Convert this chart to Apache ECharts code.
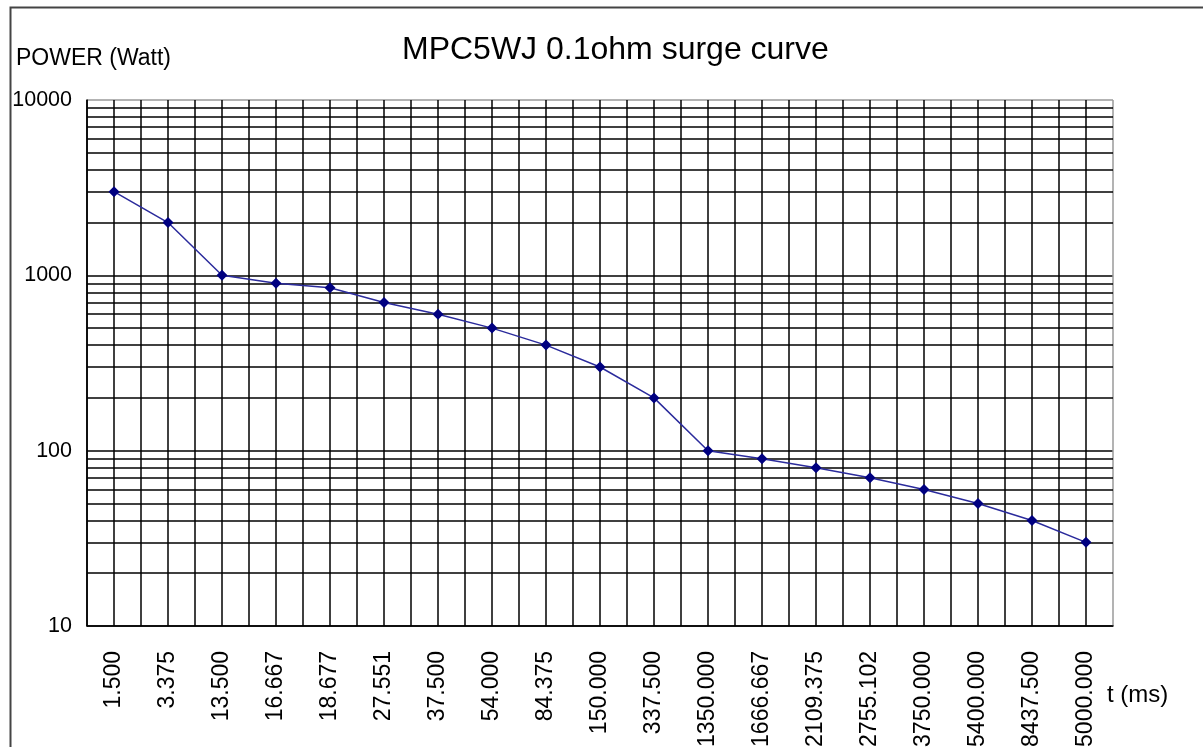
<!DOCTYPE html>
<html>
<head>
<meta charset="utf-8">
<script src="https://cdn.jsdelivr.net/npm/echarts@6/dist/echarts.min.js"></script>
<style>
html,body{margin:0;padding:0;background:#fff;overflow:hidden;}
#chart{width:1203px;height:747px;}
</style>
</head>
<body>
<div id="chart"></div>
<script>
const categories = ['1.500','3.375','13.500','16.667','18.677','27.551','37.500','54.000','84.375','150.000','337.500','1350.000','1666.667','2109.375','2755.102','3750.000','5400.000','8437.500','15000.000'];
const powerValues = [3000,2000,1000,900,850,700,600,500,400,300,200,100,90,80,70,60,50,40,30];
const minorGridValues = [20,30,40,50,60,70,80,90,200,300,400,500,600,700,800,900,2000,3000,4000,5000,6000,7000,8000,9000];
const titleText = 'MPC5WJ 0.1ohm surge curve';
const yAxisName = 'POWER (Watt)';
const xAxisName = 't (ms)';

const FONT = '"Liberation Sans", Arial, sans-serif';
const chart = echarts.init(document.getElementById('chart'), null, {renderer:'canvas'});

const vColors = categories.map(() => '#000').concat(['#9a9a9a']);

const option = {
  backgroundColor: '#fff',
  animation: false,
  title: [
    {text: titleText, left: 397, top: 29, textStyle: {fontFamily: FONT, fontSize: 32, fontWeight: 'normal', color: '#000'}},
    {text: yAxisName, left: 11, top: 42, textStyle: {fontFamily: FONT, fontSize: 23, fontWeight: 'normal', color: '#000'}}
  ],
  graphic: [
    {type: 'rect', left: 8, top: 5, shape: {width: 1400, height: 900}, style: {fill: 'none', stroke: '#444', lineWidth: 2}, z: 100, silent: true}
  ],
  grid: {left: 87, right: 90, top: 100, bottom: 121, containLabel: false, outerBoundsMode: 'none'},
  xAxis: {
    type: 'category',
    data: categories,
    boundaryGap: true,
    name: xAxisName,
    nameLocation: 'end',
    nameGap: -6,
    nameTextStyle: {fontFamily: FONT, fontSize: 24, color: '#000', align: 'left', verticalAlign: 'top', padding: [57, 0, 0, 0]},
    axisLine: {show: true, lineStyle: {color: '#000', width: 1.5}},
    axisTick: {show: false},
    axisLabel: {interval: 0, rotate: 90, margin: 25, fontFamily: FONT, fontSize: 23, color: '#000'},
    splitLine: {show: true, interval: 0, lineStyle: {color: vColors, width: 1.5}}
  },
  yAxis: {
    type: 'log',
    logBase: 10,
    min: 10,
    max: 10000,
    axisLine: {show: true, lineStyle: {color: '#000', width: 1.5}},
    axisTick: {show: false},
    axisLabel: {margin: 15, fontFamily: FONT, fontSize: 21.5, color: '#000', formatter: v => String(Math.round(v))},
    splitLine: {show: true, lineStyle: {color: ['#000','#000','#000','#9a9a9a'], width: 1.5}}
  },
  series: [
    {
      type: 'line',
      data: powerValues,
      symbol: 'none',
      lineStyle: {opacity: 0},
      silent: true,
      z: 1,
      markLine: {
        silent: true,
        symbol: ['none','none'],
        label: {show: false},
        lineStyle: {color: '#000', width: 1.5, type: 'solid'},
        data: categories.map(c => ({xAxis: c})).concat(minorGridValues.map(v => ({yAxis: v})))
      }
    },
    {
      type: 'line',
      data: powerValues,
      z: 5,
      symbol: 'diamond',
      symbolSize: 11,
      showSymbol: true,
      lineStyle: {color: '#2b2b9c', width: 1.5},
      itemStyle: {color: '#000080'}
    }
  ]
};
chart.setOption(option);
</script>
</body>
</html>
